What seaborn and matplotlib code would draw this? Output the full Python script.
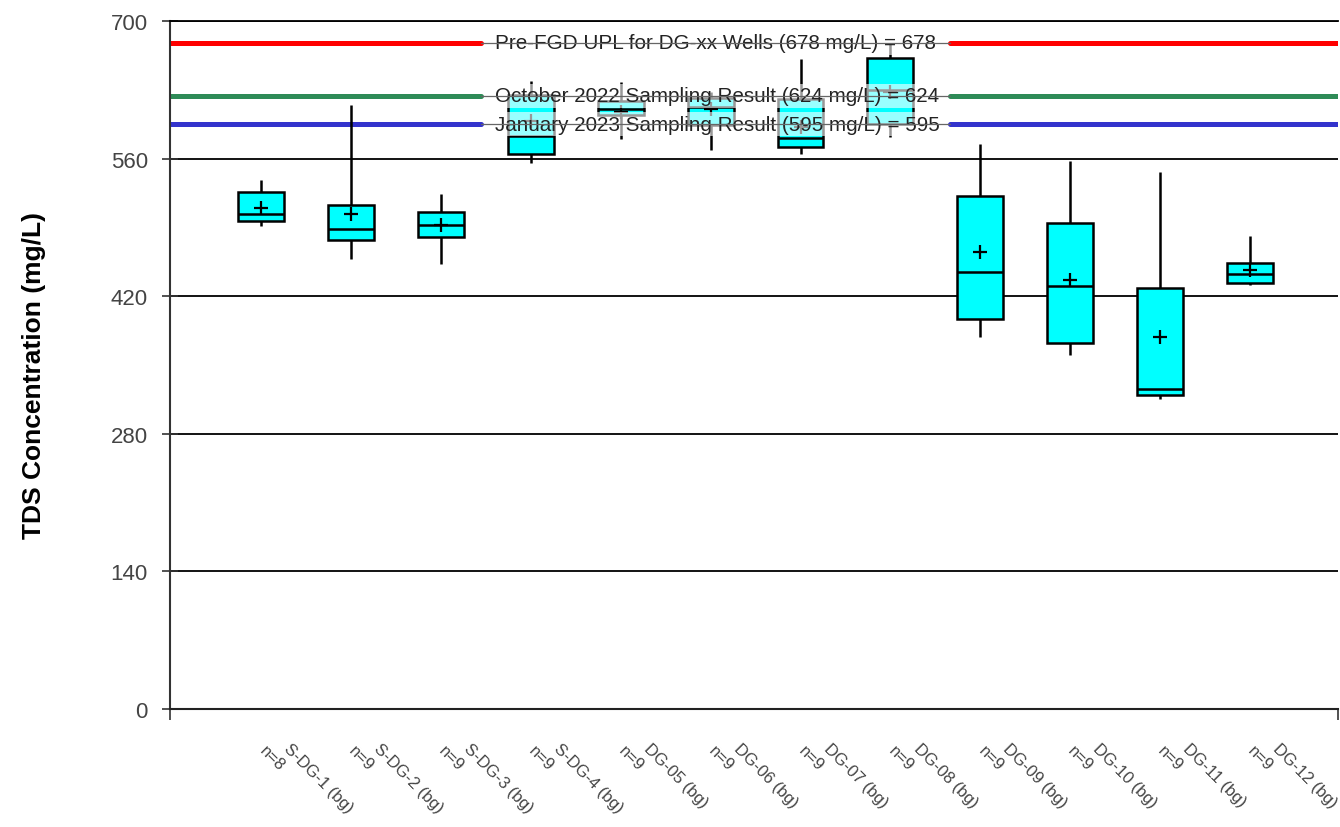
import pandas as pd
import matplotlib
matplotlib.use("Agg")
import matplotlib.pyplot as plt
import seaborn as sns

# Well names and sample counts
wells = ["S-DG-1 (bg)", "S-DG-2 (bg)", "S-DG-3 (bg)", "S-DG-4 (bg)",
         "DG-05 (bg)", "DG-06 (bg)", "DG-07 (bg)", "DG-08 (bg)",
         "DG-09 (bg)", "DG-10 (bg)", "DG-11 (bg)", "DG-12 (bg)"]
n_obs = [8, 9, 9, 9, 9, 9, 9, 9, 9, 9, 9, 9]

# Box summary (mg/L)
whisker_low = [491, 458, 453, 556, 580, 569, 565, 582, 378, 360, 315, 431]
q1 = [497, 477, 480, 565, 604, 594, 572, 595, 397, 372, 319, 433]
median = [504, 488, 492, 583, 610, 613, 581, 630, 445, 430, 326, 443]
q3 = [526, 513, 506, 625, 619, 622, 621, 662, 522, 494, 428, 454]
whisker_high = [538, 615, 524, 639, 638, 628, 661, 677, 575, 558, 546, 481]
means = [510, 504, 492, 598, 607, 610, 592, 628, 465, 437, 379, 447]

# Reference lines
ref_values = [678, 624, 595]
ref_labels = ["Pre-FGD UPL for DG-xx Wells (678 mg/L) = 678",
              "October 2022 Sampling Result (624 mg/L) = 624",
              "January 2023 Sampling Result (595 mg/L) = 595"]
ref_colors = ["#ff0000", "#2e8b57", "#3333cc"]

# five-number summary per well -> long table (whis=(0,100) reproduces it exactly)
rows = []
for i, w in enumerate(wells):
    for v in (whisker_low[i], q1[i], median[i], q3[i], whisker_high[i]):
        rows.append({"well": w, "tds": v})
df = pd.DataFrame(rows)

sns.set_theme(style="white")
plt.rcParams["font.family"] = ["Liberation Sans", "DejaVu Sans"]

fig = plt.figure(figsize=(13.4, 8.28), dpi=100)
ax = fig.add_axes([0.1269, 0.1425, 0.8716, 0.8309])

sns.boxplot(data=df, x="well", y="tds", order=wells, whis=(0, 100), width=0.51,
            color="#00ffff", saturation=1, linecolor="black", linewidth=1.8,
            showcaps=False, ax=ax,
            medianprops=dict(color="black", linewidth=1.8))

sns.stripplot(x=wells, y=means, order=wells, jitter=False, marker="+",
              color="black", size=10, linewidth=1.6, ax=ax, zorder=4)

# reference lines with labels
lo_frac, hi_frac = 0.266, 0.668
for v, lab, c in zip(ref_values, ref_labels, ref_colors):
    ax.axhline(v, xmax=lo_frac, color=c, linewidth=3.6, zorder=0.8)
    ax.axhline(v, xmin=hi_frac, color=c, linewidth=3.6, zorder=0.8)
    ax.text(0.278, v, lab, transform=ax.get_yaxis_transform(), ha="left",
            va="center", fontsize=14.9, color="#222222", zorder=5,
            bbox=dict(facecolor="white", edgecolor="none", alpha=0.6, pad=2))
    ax.axhline(v, xmin=lo_frac, xmax=hi_frac, color="#666666", linewidth=0.9, zorder=6)

# axes
ax.set_ylim(0, 700)
ax.set_xlim(-1.015, 11.98)
ax.set_yticks([0, 140, 280, 420, 560, 700])
ax.yaxis.grid(True, color="black", linewidth=1.3)
ax.xaxis.grid(False)
ax.set_axisbelow(True)
ax.tick_params(axis="y", direction="inout", length=12, width=1.2, colors="#333333",
               labelsize=16, labelcolor="#444444", pad=10, left=True)
ax.set_xticks(list(ax.get_xlim()))
ax.set_xticklabels([])
ax.tick_params(axis="x", direction="out", length=8, width=1.2, colors="#333333", bottom=True)
ax.set_xlabel("")
ax.set_ylabel("TDS Concentration (mg/L)", fontsize=19, fontweight="bold", color="black")
ax.yaxis.set_label_coords(-0.106, 0.4855)
ax.spines["right"].set_visible(False)
ax.spines["left"].set_color("#333333")
ax.spines["left"].set_linewidth(1.5)
ax.spines["bottom"].set_color("#222222")
ax.spines["bottom"].set_linewidth(1.5)
ax.spines["top"].set_color("black")
ax.spines["top"].set_linewidth(1.3)

# category labels with sample counts
for i, (w, n) in enumerate(zip(wells, n_obs)):
    ax.annotate(w, xy=(i, 0), xycoords=("data", "axes fraction"),
                xytext=(16, -29), textcoords="offset points", rotation=-45,
                rotation_mode="anchor", ha="left", va="baseline",
                fontsize=12, color="#444444", annotation_clip=False)
    ax.annotate(f"n={n}", xy=(i, 0), xycoords=("data", "axes fraction"),
                xytext=(-2, -30), textcoords="offset points", rotation=-45,
                rotation_mode="anchor", ha="left", va="baseline",
                fontsize=12, color="#444444", annotation_clip=False)

plt.savefig("out.png", dpi=100)
